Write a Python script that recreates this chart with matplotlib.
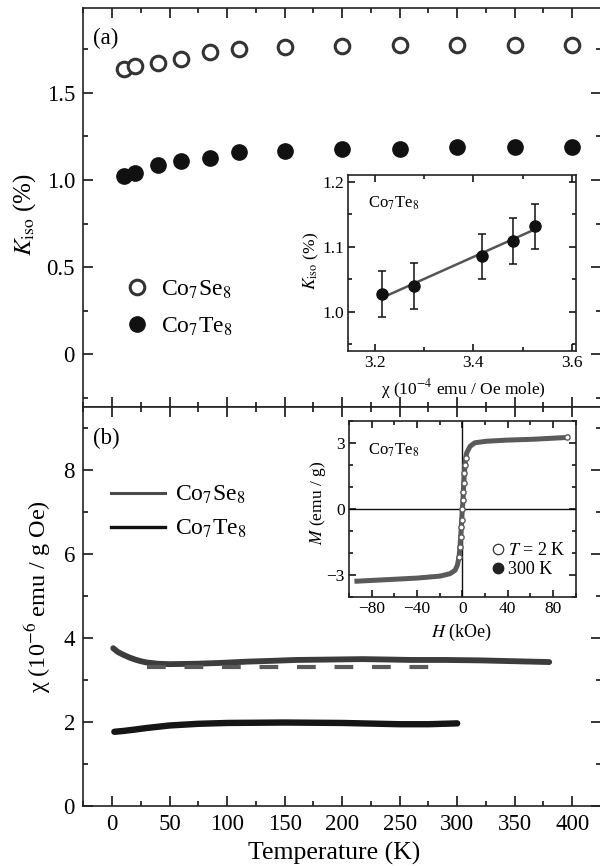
import matplotlib
matplotlib.use("Agg")
import matplotlib.pyplot as plt
from matplotlib.ticker import MultipleLocator, FixedLocator
from matplotlib.lines import Line2D

plt.rcParams['font.family'] = ['Liberation Serif', 'DejaVu Serif']
plt.rcParams['mathtext.fontset'] = 'stix'
plt.rcParams['axes.unicode_minus'] = True

# ---------------- data ----------------
# panel (a): Knight shift vs temperature
T_K = [10, 20, 40, 60, 85, 110, 150, 200, 250, 300, 350, 400]
K_se = [1.634, 1.653, 1.672, 1.695, 1.733, 1.752, 1.764, 1.768, 1.773, 1.773, 1.773, 1.773]
K_te = [1.026, 1.041, 1.085, 1.110, 1.127, 1.160, 1.169, 1.179, 1.179, 1.192, 1.192, 1.192]

# inset (a): K vs chi for Co7Te8
chi_in = [3.215, 3.280, 3.417, 3.481, 3.525]
K_in = [1.027, 1.040, 1.085, 1.109, 1.131]
K_in_err = [0.035, 0.035, 0.035, 0.035, 0.035]
fit_chi = [3.214, 3.525]
fit_K = [1.0215, 1.1267]

# panel (b): susceptibility vs temperature
T_se = [1, 5, 10, 15, 20, 25, 30, 40, 50, 73, 95, 117, 140, 160, 190, 218, 240, 260, 290, 320, 350, 380]
chi_se = [3.75, 3.66, 3.59, 3.53, 3.48, 3.44, 3.41, 3.38, 3.37, 3.38, 3.40, 3.43, 3.45, 3.47, 3.48, 3.49, 3.48, 3.47, 3.47, 3.46, 3.44, 3.42]
T_se_dash = [30, 288]
chi_se_dash = [3.31, 3.31]
T_te = [2, 10, 19, 30, 50, 75, 100, 150, 200, 250, 275, 300]
chi_te = [1.76, 1.78, 1.81, 1.85, 1.91, 1.95, 1.97, 1.98, 1.97, 1.94, 1.94, 1.96]

# inset (b): M vs H for Co7Te8
H_kOe = [-93, -70, -40, -19.7, -10.9, -6.5, -4.4, -2.9, -2.1, -1.5, -0.9, -0.6, 0,
         0.6, 0.9, 1.2, 1.8, 2.4, 2.9, 3.8, 6.8, 11, 21.5, 39, 62.6, 92]
M_emu = [-3.27, -3.21, -3.13, -3.04, -2.93, -2.78, -2.55, -2.17, -1.72, -1.26, -0.8, -0.5, 0,
         0.41, 0.79, 1.17, 1.63, 2.0, 2.31, 2.54, 2.84, 3.0, 3.07, 3.12, 3.16, 3.24]

# ---------------- figure ----------------
W, H = 600, 866
fig = plt.figure(figsize=(W / 100, H / 100), dpi=100)


def rect(x0, y0, x1, y1):
    return [x0 / W, 1 - y1 / H, (x1 - x0) / W, (y1 - y0) / H]


FS = 16.5
FSI = 12.5

def style(ax, fs, major=7, minor=3.5):
    ax.tick_params(which='both', direction='in', top=True, right=True, labelsize=fs, width=1.1)
    ax.tick_params(which='major', length=major, pad=6)
    ax.tick_params(which='minor', length=minor)
    for s in ax.spines.values():
        s.set_linewidth(1.2)
        s.set_color('#222222')


ax_a = fig.add_axes(rect(83.3, 8.3, 601, 406.7))
ax_b = fig.add_axes(rect(83.3, 406.7, 601, 805.7))

# panel (a)
ax_a.plot(T_K, K_se, 'o', ms=10.5, mfc='white', mec='#333333', mew=2.2, ls='none', label='Co$_7$Se$_8$')
ax_a.plot(T_K, K_te, 'o', ms=11, mfc='#111111', mec='#111111', ls='none', label='Co$_7$Te$_8$')
ax_a.set_xlim(-25, 425)
ax_a.set_ylim(-0.3, 1.985)
ax_a.xaxis.set_major_locator(MultipleLocator(50))
ax_a.xaxis.set_minor_locator(MultipleLocator(25))
ax_a.yaxis.set_major_locator(FixedLocator([0, 0.5, 1.0, 1.5]))
ax_a.yaxis.set_minor_locator(MultipleLocator(0.25))
ax_a.set_yticklabels(['0', '0.5', '1.0', '1.5'])
style(ax_a, FS)
ax_a.tick_params(labelbottom=False)
ax_a.set_ylabel(r'$K_{\rm iso}$ (%)', fontsize=FS + 1.5)
ax_a.yaxis.set_label_coords(-0.088, 0.481)
ax_a.text((93 - 83.3) / 517.7, (406.7 - 44) / 398.4, '(a)', transform=ax_a.transAxes, fontsize=FS)
ax_a.legend(loc='center left', bbox_to_anchor=(0.081, 0.2477), frameon=False, fontsize=FS + 0.5,
            handlelength=1.0, handletextpad=0.5, labelspacing=0.62, borderpad=0, borderaxespad=0)

# panel (b)
ax_b.plot(T_se, chi_se, '-', color='#3c3c3c', lw=4.2, solid_capstyle='round', label='Co$_7$Se$_8$')
ax_b.plot(T_se_dash, chi_se_dash, '--', color='#5a5a5a', lw=3.0, dashes=(4.5, 4.5))
ax_b.plot(T_te, chi_te, '-', color='#151515', lw=4.6, solid_capstyle='round', label='Co$_7$Te$_8$')
ax_b.set_xlim(-25, 425)
ax_b.set_ylim(0, 9.5)
ax_b.xaxis.set_major_locator(MultipleLocator(50))
ax_b.xaxis.set_minor_locator(MultipleLocator(25))
ax_b.yaxis.set_major_locator(MultipleLocator(2))
ax_b.yaxis.set_minor_locator(MultipleLocator(1))
style(ax_b, FS)
ax_b.set_xlabel('Temperature (K)', fontsize=FS + 2)
ax_b.xaxis.set_label_coords(0.484, -0.09)
ax_b.xaxis.label.set_va('top')
ax_b.set_ylabel('χ (10$^{-6}$ emu / g Oe)', fontsize=FS + 1)
ax_b.yaxis.set_label_coords(-0.058, 0.523)
ax_b.text((93 - 83.3) / 517.7, (805.7 - 444) / 399, '(b)', transform=ax_b.transAxes, fontsize=FS)
h_se = Line2D([], [], color='#4a4a4a', lw=2.2)
h_te = Line2D([], [], color='#111111', lw=2.4)
ax_b.legend([h_se, h_te], ['Co$_7$Se$_8$', 'Co$_7$Te$_8$'], loc='center left',
            bbox_to_anchor=(0.053, 0.736), frameon=False, fontsize=FS + 0.5,
            handlelength=2.3, handletextpad=0.42, labelspacing=0.5, borderpad=0, borderaxespad=0)

# inset (a)
ia = fig.add_axes(rect(348.3, 175, 575.5, 351))
ia.errorbar(chi_in, K_in, yerr=K_in_err, fmt='o', ms=8, color='#111111', ecolor='#111111',
            elinewidth=1.1, capsize=3, capthick=1.1, zorder=3)
ia.plot(fit_chi, fit_K, '-', color='#555555', lw=1.8, zorder=2)
ia.set_xlim(3.146, 3.607)
ia.set_ylim(0.94, 1.21)
ia.xaxis.set_major_locator(FixedLocator([3.2, 3.4, 3.6]))
ia.xaxis.set_minor_locator(MultipleLocator(0.1))
ia.yaxis.set_major_locator(FixedLocator([1.0, 1.1, 1.2]))
ia.yaxis.set_minor_locator(MultipleLocator(0.05))
ia.set_xticklabels(['3.2', '3.4', '3.6'])
ia.set_yticklabels(['1.0', '1.1', '1.2'])
style(ia, FSI, major=5, minor=3)
ia.tick_params(which='major', pad=3)
ia.set_xlabel('χ (10$^{-4}$ emu / Oe mole)', fontsize=FSI)
ia.xaxis.set_label_coords(0.505, -0.15)
ia.xaxis.label.set_va('top')
ia.set_ylabel(r'$K_{\rm iso}$ (%)', fontsize=FSI)
ia.yaxis.set_label_coords(-0.12, 0.511)
ia.text((368 - 348.3) / 227.2, (351 - 203) / 176, 'Co$_7$Te$_8$', transform=ia.transAxes,
        fontsize=FSI - 0.5, va='center')

# inset (b)
ib = fig.add_axes(rect(349, 420.7, 575.7, 597.3))
ib.axhline(0, color='#111111', lw=1.0, zorder=1)
ib.axvline(0, color='#111111', lw=1.0, zorder=1)
ib.plot(H_kOe, M_emu, '-', color='#5a5a5a', lw=3.6, zorder=2)
steep = [i for i, h in enumerate(H_kOe) if abs(h) <= 3.0]
ib.plot(H_kOe, M_emu, 'o', ms=3.8, mfc='white', mec='#5a5a5a', mew=1.0, ls='none',
        markevery=steep, zorder=3)
ib.plot(H_kOe[-1:], M_emu[-1:], 'o', ms=3.8, mfc='white', mec='#5a5a5a', mew=1.0, ls='none', zorder=3)
ib.set_xlim(-100, 100)
ib.set_ylim(-4, 4)
ib.xaxis.set_major_locator(MultipleLocator(40))
ib.xaxis.set_minor_locator(MultipleLocator(20))
ib.yaxis.set_major_locator(MultipleLocator(3))
ib.yaxis.set_minor_locator(MultipleLocator(1))
style(ib, FSI, major=5, minor=3)
ib.tick_params(which='major', pad=3)
ib.set_xlabel(r'$H$ (kOe)', fontsize=FSI + 0.5)
ib.xaxis.set_label_coords(0.498, -0.14)
ib.xaxis.label.set_va('top')
ib.set_ylabel(r'$M$ (emu / g)', fontsize=FSI)
ib.yaxis.set_label_coords(-0.093, 0.534)
ib.text((368 - 349) / 226.7, (597.3 - 450) / 176.6, 'Co$_7$Te$_8$', transform=ib.transAxes,
        fontsize=FSI - 0.5, va='center')
h2 = Line2D([], [], marker='o', ls='none', ms=7.5, mfc='white', mec='#333333', mew=0.9)
h300 = Line2D([], [], marker='o', ls='none', ms=7.5, mfc='#222222', mec='#222222')
ib.legend([h2, h300], [r'$T$ = 2 K', '300 K'], loc='center left', bbox_to_anchor=(0.635, 0.211),
          frameon=False, fontsize=FSI + 0.5, handlelength=0.6, handletextpad=0.25, labelspacing=0.1,
          borderpad=0, borderaxespad=0)

fig.savefig('out.png', dpi=100)
